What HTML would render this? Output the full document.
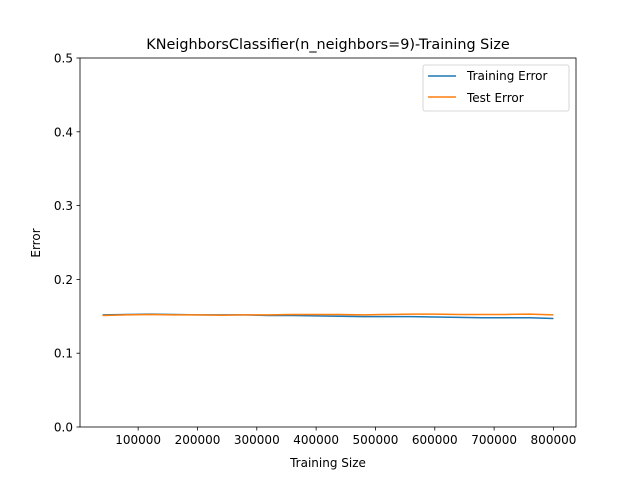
<!DOCTYPE html>
<html><head><meta charset="utf-8"><style>
body{margin:0;background:#fff;font-family:"Liberation Sans","DejaVu Sans",sans-serif}
svg text{font-family:"DejaVu Sans","Liberation Sans",sans-serif}
</style></head><body>
<svg id="chart" width="640" height="480" xmlns="http://www.w3.org/2000/svg">
<rect width="640" height="480" fill="#fff"/>
<text x="328" y="49" font-size="14.4" text-anchor="middle">KNeighborsClassifier(n_neighbors=9)-Training Size</text>
<g id="axes"></g>
<g id="series"></g>
<rect x="80" y="58" width="496" height="369" fill="none" stroke="#000" stroke-width="0.8"/>
<text x="328" y="467" font-size="12" text-anchor="middle">Training Size</text>
<text transform="translate(40,243) rotate(-90)" font-size="12" text-anchor="middle">Error</text>
<g>
<rect x="423" y="65" width="146" height="46" rx="2" fill="#fff" stroke="#ccc" stroke-width="0.8"/>
<line x1="428" y1="76" x2="456" y2="76" stroke="#1f77b4" stroke-width="1.5"/>
<text x="467" y="80" font-size="12">Training Error</text>
<line x1="428" y1="97" x2="456" y2="97" stroke="#ff7f0e" stroke-width="1.5"/>
<text x="467" y="102" font-size="12">Test Error</text>
</g>
</svg>
<script>
const sizes=[40000,80000,120000,160000,200000,240000,280000,320000,360000,400000,440000,480000,520000,560000,600000,640000,680000,720000,760000,800000];
const trainErr=[0.152,0.1525,0.153,0.1525,0.152,0.152,0.152,0.151,0.151,0.1505,0.150,0.1495,0.1495,0.1495,0.149,0.1485,0.148,0.148,0.148,0.147];
const testErr=[0.151,0.152,0.1525,0.152,0.152,0.1515,0.152,0.152,0.1525,0.1525,0.1525,0.152,0.1525,0.153,0.153,0.1525,0.1525,0.1525,0.153,0.152];
const xTicks=[100000,200000,300000,400000,500000,600000,700000,800000];
const yTicks=[0,0.1,0.2,0.3,0.4,0.5];
const X0=80,X1=576,Y0=427,Y1=58,xmin=2000,xmax=838000,ymin=0,ymax=0.5;
const xs=v=>X0+(v-xmin)/(xmax-xmin)*(X1-X0);
const ys=v=>Y0-(v-ymin)/(ymax-ymin)*(Y0-Y1);
const NS="http://www.w3.org/2000/svg";
const axes=document.getElementById('axes'),ser=document.getElementById('series');
function mk(t,a,p){const e=document.createElementNS(NS,t);for(const k in a)e.setAttribute(k,a[k]);p.appendChild(e);return e;}
xTicks.forEach(v=>{const x=xs(v);
const l=mk('line',{x1:x,x2:x,y1:Y0,y2:Y0+3.5,stroke:'#000','stroke-width':0.8},axes);


const t=mk('text',{x:x,y:Y0+17,'font-size':12,'text-anchor':'middle'},axes);t.textContent=v;

});
yTicks.forEach(v=>{const y=ys(v);
const l=mk('line',{x1:X0-3.5,x2:X0,y1:y,y2:y,stroke:'#000','stroke-width':0.8},axes);


const t=mk('text',{x:X0-7,y:y+4.5,'font-size':12,'text-anchor':'end'},axes);t.textContent=v.toFixed(1);

});
function line(vals,color,name){const p=mk('polyline',{points:sizes.map((s,i)=>xs(s)+','+ys(vals[i])).join(' '),fill:'none',stroke:color,'stroke-width':1.5},ser);

}
line(trainErr,'#1f77b4','training-error-line');
line(testErr,'#ff7f0e','test-error-line');
</script>
</body></html>
